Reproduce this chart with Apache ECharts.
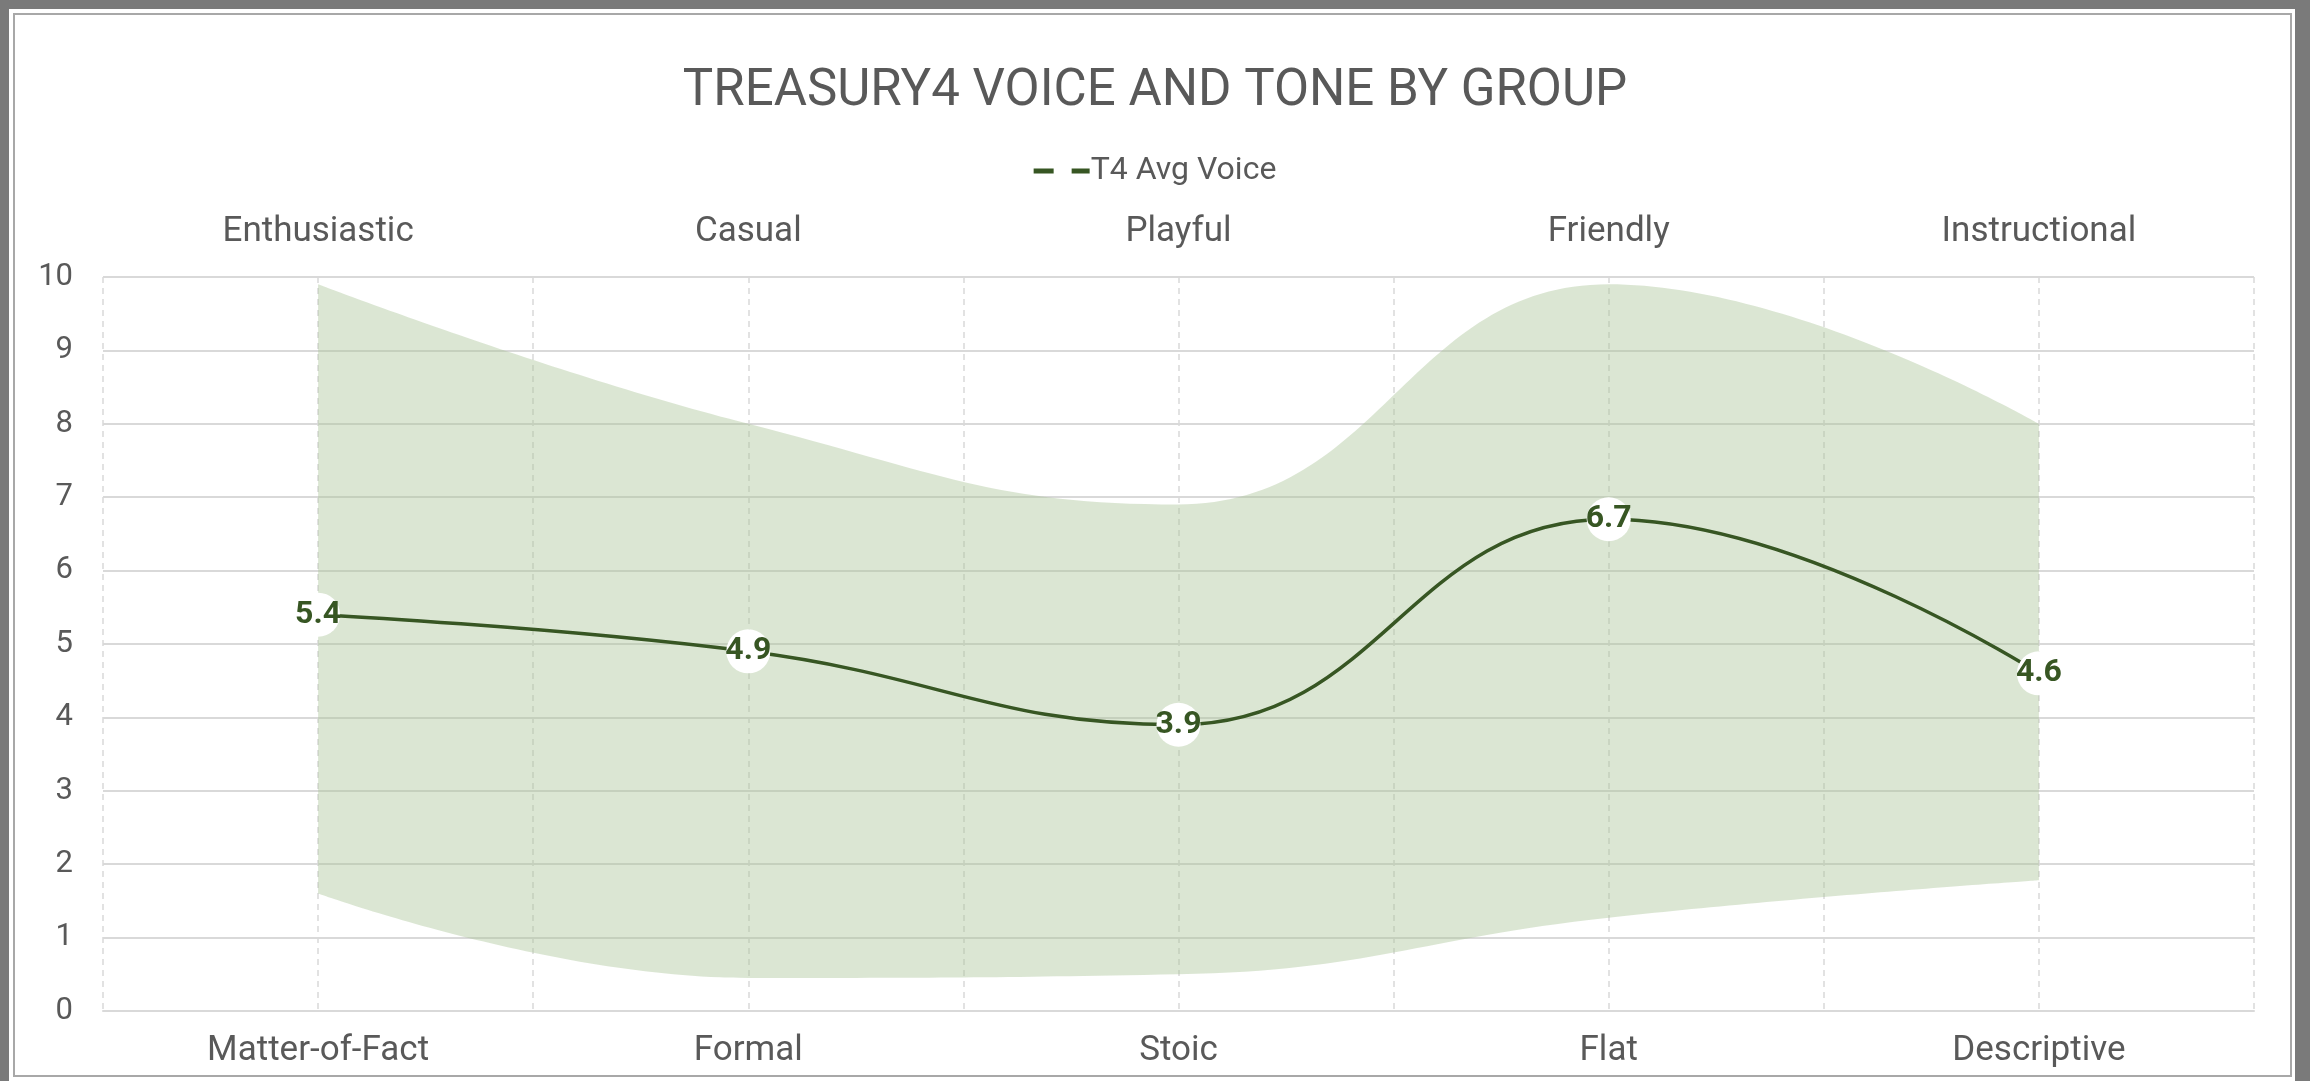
<!DOCTYPE html>
<html>
<head>
<meta charset="utf-8">
<script src="https://cdn.jsdelivr.net/npm/echarts@6/dist/echarts.min.js"></script>
<style>
html,body{margin:0;padding:0;width:2310px;height:1081px;overflow:hidden;background:#7a7a7a;}
#frame{position:absolute;left:9px;top:9px;width:2286px;height:1072px;background:#fff;}
#inner{position:absolute;left:4px;top:4px;right:3px;bottom:4px;border:2px solid #a8a8a8;}
#chart{position:absolute;left:0;top:0;width:2310px;height:1081px;}
</style>
</head>
<body>
<div id="frame"><div id="inner"></div></div>
<div id="chart"></div>
<script>
var titleText = 'TREASURY4 VOICE AND TONE BY GROUP';
var seriesName = 'T4 Avg Voice';
var topCategories = ['Enthusiastic', 'Casual', 'Playful', 'Friendly', 'Instructional'];
var bottomCategories = ['Matter-of-Fact', 'Formal', 'Stoic', 'Flat', 'Descriptive'];
var avgVoice = [5.4, 4.9, 3.9, 6.7, 4.6];
var rangeUpper = [9.9, 8.0, 6.9, 9.9, 8.0];
var rangeLower = [1.6, 0.45, 0.5, 1.27, 1.78];
var yTicks = [0, 10, 1];

var textColor = '#595959';
var gridColor = '#d9d9d9';
var lineColor = '#375623';
var font = 'Roboto';

var rangeDiff = rangeUpper.map(function (u, i) { return +(u - rangeLower[i]).toFixed(3); });
var halfSlots = [];
for (var i = 0; i < topCategories.length * 2; i++) halfSlots.push('');

var chart = echarts.init(document.getElementById('chart'));
chart.setOption({
  backgroundColor: 'transparent',
  animation: false,
  textStyle: { fontFamily: font },
  title: {
    text: titleText, left: 'center', top: 62,
    textStyle: { fontFamily: font, fontSize: 51, fontWeight: 'normal', color: textColor }
  },
  legend: {
    top: 150, left: 'center',
    itemWidth: 56, itemHeight: 5, itemGap: 10,
    textStyle: { fontFamily: font, fontSize: 32, color: textColor, padding: [0, 0, 0, -4] },
    data: [{ name: seriesName, icon: 'path://M0,0h20v5h-20z M38,0h18v5h-18z', itemStyle: { color: lineColor } }]
  },
  grid: { left: 103, right: 56, top: 277, bottom: 70, containLabel: false },
  xAxis: [
    {
      type: 'category', position: 'bottom', data: bottomCategories, boundaryGap: true,
      axisLine: { show: true, lineStyle: { color: gridColor, width: 2 } },
      axisTick: { show: false },
      splitLine: { show: false },
      axisLabel: { fontFamily: font, fontSize: 35, color: textColor, margin: 23 }
    },
    {
      type: 'category', position: 'top', data: topCategories, boundaryGap: true,
      axisLine: { show: false },
      axisTick: { show: false },
      splitLine: { show: false },
      axisLabel: { fontFamily: font, fontSize: 35, color: textColor, margin: 27 }
    },
    {
      type: 'category', position: 'bottom', data: halfSlots, boundaryGap: true,
      axisLine: { show: false }, axisTick: { show: false }, axisLabel: { show: false },
      splitLine: { show: true, interval: 0, lineStyle: { color: gridColor, width: 1.5, type: [6, 5] } }
    }
  ],
  yAxis: {
    type: 'value', min: yTicks[0], max: yTicks[1], interval: yTicks[2],
    axisLine: { show: false }, axisTick: { show: false },
    splitLine: { show: true, lineStyle: { color: gridColor, width: 2 } },
    axisLabel: { fontFamily: font, fontSize: 31, color: textColor, margin: 30 }
  },
  series: [
    {
      name: 'lower', type: 'line', xAxisIndex: 0, stack: 'band', data: rangeLower,
      smooth: 0.45, symbol: 'none', lineStyle: { opacity: 0 }, silent: true, z: 1
    },
    {
      name: 'range', type: 'line', xAxisIndex: 0, stack: 'band', data: rangeDiff,
      smooth: 0.45, symbol: 'none', lineStyle: { opacity: 0 },
      areaStyle: { color: 'rgb(169,196,150)', opacity: 0.42 }, silent: true, z: 1
    },
    {
      name: seriesName, type: 'line', xAxisIndex: 0, data: avgVoice,
      smooth: 0.45, symbol: 'circle', symbolSize: 44,
      itemStyle: { color: '#ffffff', borderWidth: 0 },
      lineStyle: { color: lineColor, width: 3.5 },
      label: { show: true, position: 'inside', fontFamily: font, fontSize: 32, fontWeight: 'bold', color: lineColor },
      z: 3
    }
  ]
});
</script>
</body>
</html>
